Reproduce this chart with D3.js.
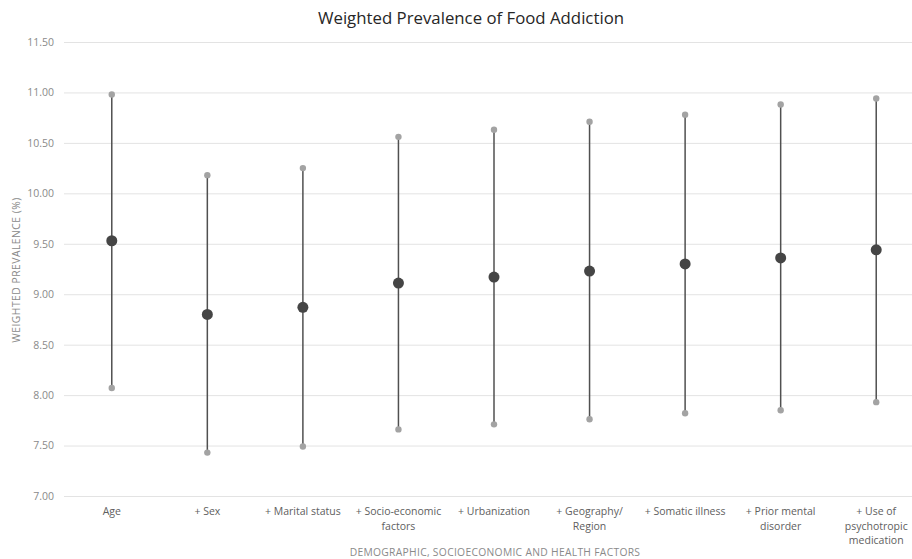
<!DOCTYPE html>
<html>
<head>
<meta charset="utf-8">
<script src="https://cdn.jsdelivr.net/npm/d3@7"></script>
<style>
  html, body { margin: 0; padding: 0; background: #fff; }
  svg { display: block; }
</style>
</head>
<body>
<svg id="chart" width="912" height="559"></svg>
<script>
// Models with progressively added covariates
const categories = [
  "Age", "+ Sex", "+ Marital status", "+ Socio-economic\nfactors", "+ Urbanization",
  "+ Geography/\nRegion", "+ Somatic illness", "+ Prior mental\ndisorder", "+ Use of\npsychotropic\nmedication"
];
// Weighted prevalence estimate (%) and its confidence bounds
const estimate = [9.53, 8.80, 8.87, 9.11, 9.17, 9.23, 9.30, 9.36, 9.44];
const upper    = [10.98, 10.18, 10.25, 10.56, 10.63, 10.71, 10.78, 10.88, 10.94];
const lower    = [8.07, 7.43, 7.49, 7.66, 7.71, 7.76, 7.82, 7.85, 7.93];
const yTicks   = [7.0, 7.5, 8.0, 8.5, 9.0, 9.5, 10.0, 10.5, 11.0, 11.5];

const font = "'Open Sans', 'Liberation Sans', sans-serif";
const svg = d3.select("#chart");

const x = d3.scaleBand().domain(categories).range([64, 924]);
const y = d3.scaleLinear().domain([7, 11.5]).range([496, 42]);

// Title
svg.append("text")
  .attr("x", 471).attr("y", 24)
  .attr("text-anchor", "middle")
  .attr("font-family", font).attr("font-size", 16.8)
  .attr("fill", "#262626")
  .text("Weighted Prevalence of Food Addiction");

// Horizontal gridlines and y tick labels
const yAxis = d3.axisLeft(y).tickValues(yTicks).tickFormat(d3.format(".2f"))
  .tickSize(-(x.range()[1] - x.range()[0])).tickPadding(10);
const gy = svg.append("g").attr("transform", "translate(64,0)").call(yAxis);
gy.select(".domain").remove();
gy.selectAll(".tick line").attr("stroke", "#e3e3e3").attr("stroke-width", 1);
gy.selectAll(".tick text")
  .attr("font-family", font).attr("font-size", 10.5).attr("fill", "#8a8a8a");

// Category labels (multi-line)
const xAxis = d3.axisBottom(x).tickSize(0).tickPadding(0).tickFormat("");
const gx = svg.append("g").attr("transform", "translate(0,496)").call(xAxis);
gx.select(".domain").remove();
gx.selectAll(".tick").each(function(d) {
  const t = d3.select(this).append("text")
    .attr("text-anchor", "middle")
    .attr("font-family", font).attr("font-size", 10.5).attr("fill", "#606060");
  d.split("\n").forEach((line, i) => {
    t.append("tspan").attr("x", 0).attr("y", 19 + i * 14.5).text(line);
  });
});

// Axis titles
svg.append("text")
  .attr("transform", "translate(20,270) rotate(-90)")
  .attr("text-anchor", "middle")
  .attr("font-family", font).attr("font-size", 10.3).attr("fill", "#8a8a8a")
  .attr("letter-spacing", 0.5)
  .text("WEIGHTED  PREVALENCE (%)");
svg.append("text")
  .attr("x", 495).attr("y", 556)
  .attr("text-anchor", "middle")
  .attr("font-family", font).attr("font-size", 10.3).attr("fill", "#8a8a8a")
  .attr("letter-spacing", 0.3)
  .text("DEMOGRAPHIC, SOCIOECONOMIC AND HEALTH FACTORS");

// Interval lines, bounds and estimates
const cx = i => x(categories[i]) + x.bandwidth() / 2;
const g = svg.append("g");
categories.forEach((c, i) => {
  g.append("line")
    .attr("x1", cx(i)).attr("x2", cx(i))
    .attr("y1", y(upper[i])).attr("y2", y(lower[i]))
    .attr("stroke", "#505050").attr("stroke-width", 1.5);
  g.append("circle").attr("cx", cx(i)).attr("cy", y(upper[i])).attr("r", 3.2).attr("fill", "#a3a3a3");
  g.append("circle").attr("cx", cx(i)).attr("cy", y(lower[i])).attr("r", 3.2).attr("fill", "#a3a3a3");
  g.append("circle").attr("cx", cx(i)).attr("cy", y(estimate[i])).attr("r", 5.5).attr("fill", "#454545");
});
</script>
</body>
</html>
